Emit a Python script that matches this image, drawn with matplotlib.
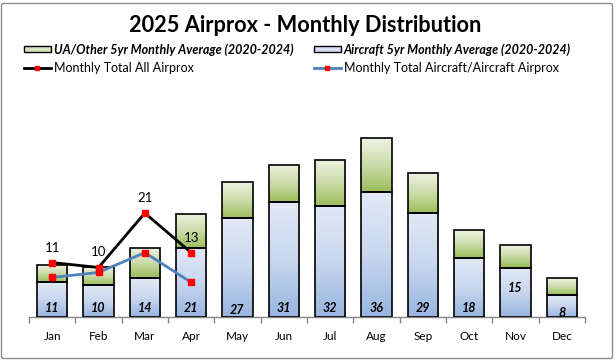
import numpy as np
import matplotlib
matplotlib.use("Agg")
import matplotlib.pyplot as plt
from matplotlib.colors import LinearSegmentedColormap
from matplotlib.patches import Rectangle, FancyBboxPatch
from matplotlib.lines import Line2D

# ---------------- data ----------------
months = ["Jan", "Feb", "Mar", "Apr", "May", "Jun", "Jul", "Aug", "Sep", "Oct", "Nov", "Dec"]
aircraft_avg = [7.1, 6.5, 7.8, 14.0, 20.1, 23.3, 22.5, 25.3, 21.1, 12.0, 10.0, 4.5]
ua_other_avg = [3.5, 3.6, 6.2, 6.9, 7.1, 7.5, 9.3, 10.8, 7.9, 5.5, 4.6, 3.3]
total_avg_labels = [11, 10, 14, 21, 27, 31, 32, 36, 29, 18, 15, 8]
total_all_2025 = [11, 10, 21, 13]
total_aircraft_2025 = [8, 9, 13, 7]

# label vertical offsets (pixels above baseline) for bar labels
bar_label_offset_px = [8.5, 8.5, 9.5, 9.5, 7.5, 9, 9.5, 9, 9, 9, 29, 4]

FONT = ["Lato", "DejaVu Sans"]
plt.rcParams["font.family"] = FONT

W, H = 616, 360
fig = plt.figure(figsize=(W / 100, H / 100), dpi=100)

# outer border
fig.patches.append(FancyBboxPatch((1.5 / W, 1.5 / H), (W - 5) / W, (H - 5) / H,
                                  boxstyle="round,pad=0,rounding_size=0.004",
                                  transform=fig.transFigure, fill=False,
                                  edgecolor="#8c8c8c", linewidth=1.0))

ax_left, ax_right = 29 / W, 585 / W
ax_bottom = (H - 317) / H
ymax = 45
ax_top = (H - (317 - ymax * 4.95)) / H
ax = fig.add_axes([ax_left, ax_bottom, ax_right - ax_left, ax_top - ax_bottom])

x = np.arange(len(months))
width = 0.65

blue_cmap = LinearSegmentedColormap.from_list("b", ["#98b5e0", "#c9d7ef", "#e2e9f5"])
green_cmap = LinearSegmentedColormap.from_list("g", ["#9bbd5a", "#cbdcaa", "#eef3e3"])

b1 = ax.bar(x, aircraft_avg, width, color="none", edgecolor="black", linewidth=1.2, zorder=3)
b2 = ax.bar(x, ua_other_avg, width, bottom=aircraft_avg, color="none", edgecolor="black",
            linewidth=1.2, zorder=3)

grad = np.linspace(0, 1, 256).reshape(-1, 1)
for bars, cmap in ((b1, blue_cmap), (b2, green_cmap)):
    for p in bars:
        x0, y0 = p.get_x(), p.get_y()
        w, h = p.get_width(), p.get_height()
        im = ax.imshow(grad, cmap=cmap, origin="lower", aspect="auto",
                       extent=(x0, x0 + w, y0, y0 + h), zorder=2)
        im.set_clip_path(p)

# lines
n = len(total_all_2025)
ax.plot(x[:n], total_all_2025, color="black", linewidth=2, marker="s", markersize=3.8,
        markerfacecolor="red", markeredgecolor="red", zorder=5)
ax.plot(x[:len(total_aircraft_2025)], total_aircraft_2025, color="#4f81bd", linewidth=2,
        marker="s", markersize=3.8, markerfacecolor="red", markeredgecolor="red", zorder=5)

for i, v in enumerate(total_all_2025):
    ax.annotate(str(v), (x[i], v), xytext=(0, 10.8), textcoords="offset points",
                ha="center", va="center", fontsize=9.5, color="black", zorder=6)

for i, v in enumerate(total_avg_labels):
    ax.annotate(str(v), (x[i], 0), xytext=(0, bar_label_offset_px[i] * 0.72),
                textcoords="offset points", ha="center", va="center", fontsize=9,
                fontweight="bold", fontstyle="italic", color="black", zorder=6)

ax.set_xlim(-0.5, len(months) - 0.5)
ax.set_ylim(0, ymax)
ax.set_xticks(x)
ax.set_xticklabels(months, fontsize=8.5)
ax.set_xticks(np.arange(-0.5, len(months), 1), minor=True)
ax.tick_params(axis="x", which="major", length=0, pad=10)
ax.tick_params(axis="x", which="minor", length=4, color="#868686", width=1)
ax.set_yticks([])
for s in ("left", "top", "right"):
    ax.spines[s].set_visible(False)
ax.spines["bottom"].set_color("#868686")
ax.spines["bottom"].set_linewidth(1)
ax.patch.set_alpha(0)

fig.text(305.5 / W, (H - 25.5) / H, "2025 Airprox - Monthly Distribution", ha="center",
         va="center", fontsize=15.7, fontweight="bold")

handles = [
    Rectangle((0, 0), 1, 1, facecolor="#d6e4bd", edgecolor="black", linewidth=1),
    Line2D([], [], color="black", linewidth=2, marker="s", markersize=3.5,
           markerfacecolor="red", markeredgecolor="red"),
    Rectangle((0, 0), 1, 1, facecolor="#d3dff2", edgecolor="black", linewidth=1),
    Line2D([], [], color="#4f81bd", linewidth=2, marker="s", markersize=3.5,
           markerfacecolor="red", markeredgecolor="red"),
]
labels = ["UA/Other 5yr Monthly Average (2020-2024)", "Monthly Total All Airprox",
          "Aircraft 5yr Monthly Average (2020-2024)", "Monthly Total Aircraft/Aircraft Airprox"]
leg = fig.legend(handles, labels, ncol=2, loc="upper left",
                 bbox_to_anchor=(24 / W, (H - 43) / H), frameon=False, fontsize=9,
                 handlelength=2.15, handleheight=0.45, handletextpad=0.25,
                 columnspacing=1.6, labelspacing=0.5, borderaxespad=0, borderpad=0)
for t, lab in zip(leg.get_texts(), labels):
    if "Average" in lab:
        t.set_fontweight("bold")
        t.set_fontstyle("italic")

fig.savefig("out.png", dpi=100)
